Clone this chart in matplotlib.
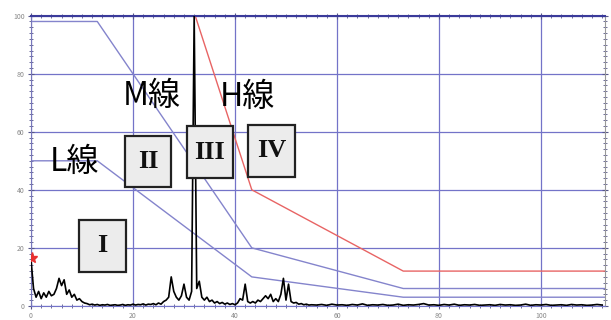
import numpy as np
import matplotlib
matplotlib.use("Agg")
from matplotlib import pyplot as plt
from matplotlib.patches import Rectangle

plt.rcParams['font.family'] = ['Noto Sans CJK JP', 'DejaVu Sans']

# spectrum, x = 0 .. 55 step 0.5
spec_lo = [
    16, 6, 3, 5, 2.5, 4.5, 3, 5, 3.5, 4,
    6, 9.5, 7, 9, 4, 5.5, 3, 4, 2, 2.5,
    1.5, 1, 0.8, 0.4, 0.6, 0.3, 0.5, 0.2, 0.4, 0.3,
    0.5, 0.2, 0.3, 0.4, 0.2, 0.3, 0.5, 0.2, 0.4, 0.3,
    0.6, 0.3, 0.5, 0.4, 0.7, 0.3, 0.6, 0.5, 0.8, 0.4,
    1, 0.6, 1.5, 2, 3, 10, 5, 3, 2, 3.5,
    7.5, 3, 2, 5, 100, 6, 8.5, 3, 2, 3,
    1.5, 2, 1, 1.5, 0.8, 1.2, 0.6, 1, 0.5, 0.8,
    0.4, 1, 2.5, 2, 7.5, 1.5, 1, 1.5, 1, 2,
    1.5, 2.5, 3.5, 2.5, 4, 1.5, 2.5, 1.5, 4, 9.5,
    2, 7.5, 1.5, 1, 1.2, 0.6, 0.8, 0.4, 0.6, 0.3,
    0.4,
]
# spectrum, x = 56 .. 112 step 1
spec_hi = [
    0.3, 0.5, 0.2, 0.6, 0.3, 0.4, 0.2, 0.5, 0.3, 0.7,
    0.2, 0.4, 0.3, 0.5, 0.2, 0.3, 0.6, 0.2, 0.4, 0.3,
    0.5, 0.8, 0.3, 0.4, 0.2, 0.5, 0.3, 0.6, 0.2, 0.4,
    0.3, 0.5, 0.2, 0.3, 0.4, 0.2, 0.5, 0.3, 0.4, 0.2,
    0.3, 0.6, 0.2, 0.4, 0.3, 0.5, 0.2, 0.3, 0.4, 0.2,
    0.5, 0.3, 0.4, 0.2, 0.3, 0.5, 0.3,
]
spec_x = list(np.arange(0, 55.01, 0.5)) + list(np.arange(56, 112.01, 1.0))
spec_y = spec_lo + spec_hi

# threshold lines
l_x = [0, 13, 43.3, 73, 112.5]
l_y = [50, 50, 10, 3, 3]
m_x = [0, 13, 43.3, 73, 112.5]
m_y = [98, 98, 20, 6, 6]
h_x = [32.2, 43.3, 73, 112.5]
h_y = [100, 40, 12, 12]

# zone boxes: label, x0, x1, y0, y1
zones = ['I', 'II', 'III', 'IV']
zone_x0 = [9.4, 18.4, 30.6, 42.5]
zone_x1 = [18.6, 27.5, 39.6, 51.8]
zone_y0 = [11.7, 40.9, 44.0, 44.3]
zone_y1 = [29.6, 58.4, 61.9, 62.5]

line_names = ['L線', 'M線', 'H線']
name_x = [8.6, 23.7, 42.5]
name_y = [49.5, 72.2, 72.0]

fig = plt.figure(figsize=(6.11, 3.2), dpi=100)
ax = fig.add_axes([0.0507, 0.044, 0.939, 0.907])

grid_c = '#7373c8'
ax.set_xlim(0, 112.5)
ax.set_ylim(0, 100)
ax.set_xticks([0, 20, 40, 60, 80, 100])
ax.set_yticks([0, 20, 40, 60, 80, 100])
ax.set_xticks(np.arange(0, 112.5, 2), minor=True)
ax.set_yticks(np.arange(0, 101, 2), minor=True)
ax.grid(True, which='major', color=grid_c, lw=0.9)
ax.tick_params(which='both', direction='inout', colors='#555588',
               labelcolor='#888888', labelsize=5, top=True, right=True, pad=2)
ax.tick_params(which='major', length=5)
ax.tick_params(which='minor', length=3, width=0.6)

ax.spines['top'].set_color('#3a3a9a')
ax.spines['top'].set_linewidth(1.5)
ax.spines['left'].set_color('#7777bb')
ax.spines['bottom'].set_color(grid_c)
ax.spines['right'].set_color('#999999')

ax.plot(spec_x, spec_y, color='black', lw=1.2, zorder=3)
ax.plot([0.2], [16.5], marker='*', color='#e83030', ms=8, zorder=4)

ax.plot(l_x, l_y, color='#8484cc', lw=1, zorder=2)
ax.plot(m_x, m_y, color='#8484cc', lw=1, zorder=2)
ax.plot(h_x, h_y, color='#e86464', lw=1, zorder=2)

for name, x, y in zip(line_names, name_x, name_y):
    ax.text(x, y, name, fontsize=23, ha='center', va='center', color='black', zorder=5)

for lab, x0, x1, y0, y1 in zip(zones, zone_x0, zone_x1, zone_y0, zone_y1):
    ax.add_patch(Rectangle((x0, y0), x1 - x0, y1 - y0, facecolor='#ececec',
                           edgecolor='#222222', lw=1.6, zorder=6))
    ax.text((x0 + x1) / 2, (y0 + y1) / 2, lab, fontsize=19, ha='center', va='center',
            family='Liberation Serif', weight='bold', color='#111111', zorder=7)

fig.savefig('out.png', dpi=100)
